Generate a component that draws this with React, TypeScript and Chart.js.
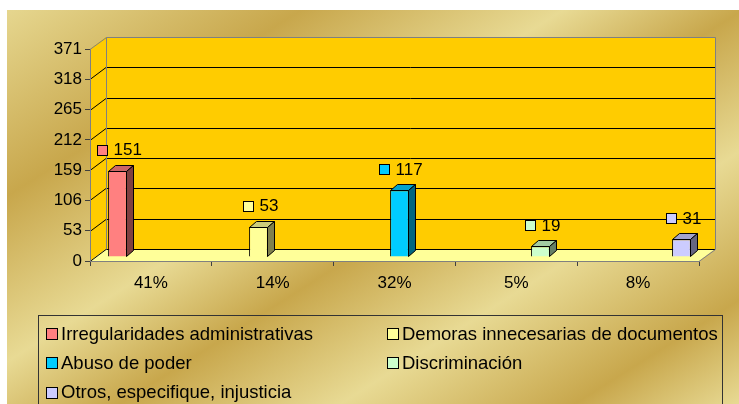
import React, { useEffect, useRef } from 'react';
import { Chart, registerables } from 'chart.js';

Chart.register(...registerables);

const categories = ['41%', '14%', '32%', '5%', '8%'];
const seriesNames = [
  'Irregularidades administrativas',
  'Demoras innecesarias de documentos',
  'Abuso de poder',
  'Discriminación',
  'Otros, especifique, injusticia',
];
const counts = [151, 53, 117, 19, 31];
const seriesColors = ['#FF8080', '#FFFF99', '#00CCFF', '#CCFFCC', '#CCCCFF'];
const yTicks = [0, 53, 106, 159, 212, 265, 318, 371];

const FONT = '"Liberation Sans", Arial, sans-serif';
const WALL_DX = 16;
const WALL_DY = 12;
const BAR_DX = 5;
const BAR_DY = 4;
const BAR_DEPTH_X = 7;
const BAR_DEPTH_Y = 6;

function shade(hex: string, f: number): string {
  const n = parseInt(hex.slice(1), 16);
  const r = Math.round(((n >> 16) & 255) * f);
  const g = Math.round(((n >> 8) & 255) * f);
  const b = Math.round((n & 255) * f);
  return `rgb(${r},${g},${b})`;
}

function poly(ctx: CanvasRenderingContext2D, pts: number[][]) {
  ctx.beginPath();
  ctx.moveTo(pts[0][0], pts[0][1]);
  for (let i = 1; i < pts.length; i++) ctx.lineTo(pts[i][0], pts[i][1]);
  ctx.closePath();
}

const scenePlugin = {
  id: 'scene3d',
  beforeDraw(chart: any) {
    const ctx: CanvasRenderingContext2D = chart.ctx;
    const W = chart.width;
    const H = chart.height;
    ctx.save();
    ctx.fillStyle = '#FFFFFF';
    ctx.fillRect(0, 0, W, H);
    const light = '#E8DA94';
    const dark = '#C8A74C';
    const g = ctx.createLinearGradient(0, 0, 394, 623);
    g.addColorStop(0, light);
    g.addColorStop(0.23, dark);
    g.addColorStop(0.42, light);
    g.addColorStop(0.55, dark);
    g.addColorStop(0.71, light);
    g.addColorStop(0.88, dark);
    g.addColorStop(1, light);
    ctx.fillStyle = g;
    ctx.fillRect(7, 10, W - 7, H - 10);

    const { left, right } = chart.chartArea;
    const ys = chart.scales.y;
    const y0 = ys.getPixelForValue(yTicks[0]);
    const yMax = ys.getPixelForValue(yTicks[yTicks.length - 1]);

    // walls
    ctx.fillStyle = '#FFCC00';
    poly(ctx, [[left, yMax], [left + WALL_DX, yMax - WALL_DY], [left + WALL_DX, y0 - WALL_DY], [left, y0]]);
    ctx.fill();
    ctx.fillRect(left + WALL_DX, yMax - WALL_DY, right - left, y0 - yMax);
    // floor
    ctx.fillStyle = '#FFFF99';
    poly(ctx, [[left, y0], [left + WALL_DX, y0 - WALL_DY], [right + WALL_DX, y0 - WALL_DY], [right, y0]]);
    ctx.fill();

    // gridlines
    ctx.lineWidth = 1;
    ctx.strokeStyle = '#000000';
    for (let i = 0; i < yTicks.length - 1; i++) {
      const py = Math.round(ys.getPixelForValue(yTicks[i])) + 0.5;
      ctx.beginPath();
      ctx.moveTo(left, py);
      ctx.lineTo(left + WALL_DX, py - WALL_DY);
      ctx.lineTo(right + WALL_DX, py - WALL_DY);
      ctx.stroke();
    }
    // outline (gray)
    ctx.strokeStyle = '#808080';
    const bx = left + WALL_DX + 0.5;
    const bt = Math.round(yMax) - WALL_DY + 0.5;
    const bb = Math.round(y0) - WALL_DY + 0.5;
    const rx = right + WALL_DX + 0.5;
    ctx.beginPath();
    ctx.moveTo(left, Math.round(yMax) + 0.5);
    ctx.lineTo(bx, bt);
    ctx.lineTo(rx, bt);
    ctx.lineTo(rx, bb);
    ctx.lineTo(right, Math.round(y0) + 0.5);
    ctx.stroke();
    ctx.beginPath();
    ctx.moveTo(bx, bt);
    ctx.lineTo(bx, bb);
    ctx.stroke();
    ctx.restore();
  },
  beforeDatasetsDraw(chart: any) {
    chart.ctx.save();
    chart.ctx.translate(BAR_DX, -BAR_DY);
  },
  afterDatasetsDraw(chart: any) {
    const ctx: CanvasRenderingContext2D = chart.ctx;
    chart.data.datasets.forEach((ds: any, i: number) => {
      const meta = chart.getDatasetMeta(i);
      meta.data.forEach((el: any, k: number) => {
        if (ds.data[k] == null) return;
        const { x, y, base, width } = el.getProps(['x', 'y', 'base', 'width'], true);
        const l = Math.round(x - width / 2) + 0.5;
        const r = Math.round(x + width / 2) - 0.5;
        const t = Math.round(y) + 0.5;
        const b = Math.round(base) - 0.5;
        ctx.lineWidth = 1;
        ctx.strokeStyle = '#000000';
        // top face
        ctx.fillStyle = shade(seriesColors[i], 0.8);
        poly(ctx, [[l, t], [l + BAR_DEPTH_X, t - BAR_DEPTH_Y], [r + BAR_DEPTH_X, t - BAR_DEPTH_Y], [r, t]]);
        ctx.fill();
        ctx.stroke();
        // side face
        ctx.fillStyle = shade(seriesColors[i], 0.5);
        poly(ctx, [[r, t], [r + BAR_DEPTH_X, t - BAR_DEPTH_Y], [r + BAR_DEPTH_X, b - BAR_DEPTH_Y], [r, b]]);
        ctx.fill();
        ctx.stroke();
      });
    });
    ctx.restore();
  },
  afterDraw(chart: any) {
    const ctx: CanvasRenderingContext2D = chart.ctx;
    ctx.save();
    // data labels
    ctx.font = `17px ${FONT}`;
    ctx.textBaseline = 'middle';
    ctx.textAlign = 'left';
    chart.data.datasets.forEach((ds: any, i: number) => {
      const meta = chart.getDatasetMeta(i);
      meta.data.forEach((el: any, k: number) => {
        const v = ds.data[k];
        if (v == null) return;
        const { x, y } = el.getProps(['x', 'y'], true);
        const txt = String(v);
        const tw = ctx.measureText(txt).width;
        const groupW = 10 + 6 + tw;
        const cx = x + BAR_DX + BAR_DEPTH_X / 2 - 2;
        const cy = y - BAR_DY - 21;
        const sx = Math.round(cx - groupW / 2) + 0.5;
        const sy = Math.round(cy - 5) + 0.5;
        ctx.fillStyle = seriesColors[i];
        ctx.fillRect(sx, sy, 10, 10);
        ctx.strokeStyle = '#000';
        ctx.lineWidth = 1;
        ctx.strokeRect(sx, sy, 10, 10);
        ctx.fillStyle = '#000';
        ctx.fillText(txt, sx + 16, cy + 1);
      });
    });

    // legend
    const boxL = 38.5, boxT = 315.5, boxR = 722.5;
    ctx.strokeStyle = '#333333';
    ctx.lineWidth = 1;
    ctx.strokeRect(boxL, boxT, boxR - boxL, 120);
    ctx.font = `18.5px ${FONT}`;
    const colX = [46, 387];
    const rowY = [333.5, 362.5, 392];
    seriesNames.forEach((name, i) => {
      const col = i % 2;
      const row = Math.floor(i / 2);
      const sx = colX[col] + 0.5;
      const cy = rowY[row];
      const sy = Math.round(cy - 5.5) + 0.5;
      ctx.fillStyle = seriesColors[i];
      ctx.fillRect(sx, sy, 11, 11);
      ctx.strokeStyle = '#000';
      ctx.strokeRect(sx, sy, 11, 11);
      ctx.fillStyle = '#000';
      ctx.fillText(name, colX[col] + 15, cy + 1);
    });
    ctx.restore();
  },
};

export default function App() {
  const ref = useRef<HTMLCanvasElement>(null);
  useEffect(() => {
    if (!ref.current) return;
    const datasets = seriesNames.map((name, i) => ({
      label: name,
      data: categories.map((_, k) => (k === i ? counts[i] : null)),
      backgroundColor: seriesColors[i],
      borderColor: '#000000',
      borderWidth: 1,
      categoryPercentage: 0.788,
      barPercentage: 0.98,
      clip: false as any,
    }));
    const chart = new Chart(ref.current, {
      type: 'bar',
      data: { labels: categories, datasets },
      options: {
        responsive: false,
        devicePixelRatio: 1,
        animation: false,
        layout: { padding: { top: 49, right: 40, bottom: 113, left: 0 } },
        plugins: { legend: { display: false }, tooltip: { enabled: false } },
        scales: {
          x: {
            type: 'category',
            offset: true,
            grid: { display: true, drawOnChartArea: false, drawTicks: true, tickLength: 5, color: '#404040', offset: true },
            border: { display: true, color: '#808080' },
            ticks: { font: { family: FONT, size: 17 }, color: '#000', padding: 7, maxRotation: 0 },
            afterFit: (s: any) => { s.height = 30; },
          },
          y: {
            min: yTicks[0],
            max: yTicks[yTicks.length - 1],
            afterBuildTicks: (s: any) => { s.ticks = yTicks.map((v) => ({ value: v })); },
            grid: { display: true, drawOnChartArea: false, drawTicks: true, tickLength: 5, color: '#404040' },
            border: { display: true, color: '#808080' },
            ticks: { font: { family: FONT, size: 17 }, color: '#000', padding: 3 },
            afterFit: (s: any) => { s.width = 90; },
          },
        },
      },
      plugins: [scenePlugin],
    });
    return () => chart.destroy();
  }, []);
  return (
    <div style={{ position: 'absolute', left: 0, top: 0, width: 739, height: 404 }}>
      <canvas ref={ref} width={739} height={404} style={{ display: 'block' }} />
    </div>
  );
}
